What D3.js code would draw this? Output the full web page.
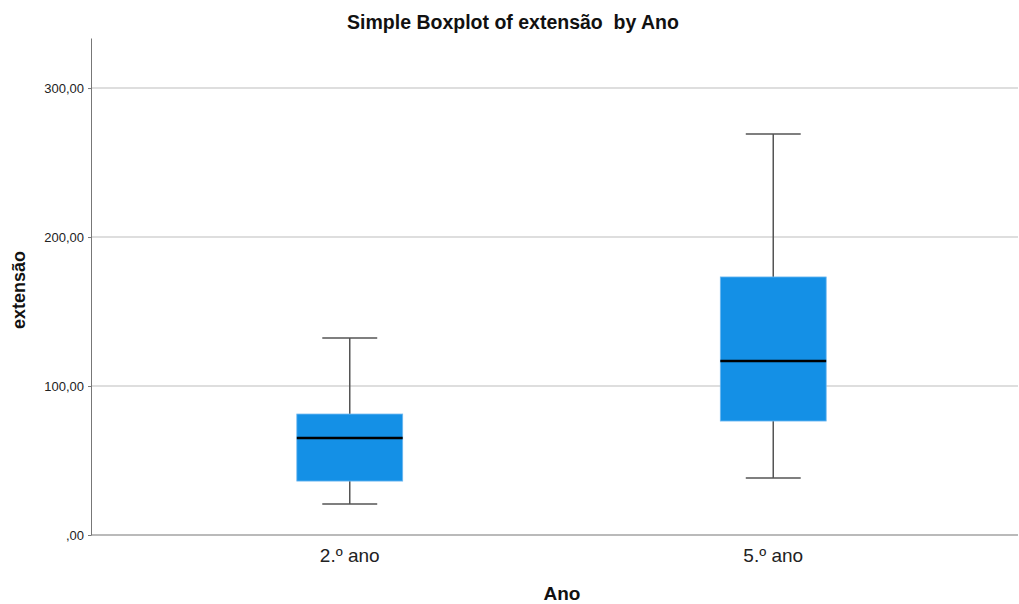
<!DOCTYPE html>
<html>
<head>
<meta charset="utf-8">
<script src="https://cdn.jsdelivr.net/npm/d3@7"></script>
<style>
  body { margin: 0; background: #fff; }
  text { font-family: "Liberation Sans", Arial, sans-serif; }
</style>
</head>
<body>
<svg id="chart" width="1019" height="604"></svg>
<script>
// data
var categories = ["2.º ano", "5.º ano"];
var whiskerLow = [20.8, 38.3];
var q1 = [36.2, 76.5];
var median = [65.1, 116.8];
var q3 = [81.2, 173.2];
var whiskerHigh = [132.2, 269.1];
var yTicks = [0, 100, 200, 300];

var svg = d3.select("#chart");
var plotLeft = 91, plotRight = 1018, plotTop = 38, plotBottom = 535;

var sc_y = d3.scaleLinear().domain([0, 333.6]).range([plotBottom, plotTop]);
var sc_x = d3.scaleBand().domain(categories).range([138, 985]).paddingInner(0).paddingOuter(0);
var fmt = function(v) { return v === 0 ? ",00" : d3.format(".2f")(v).replace(".", ","); };

// gridlines
svg.append("g").selectAll("line").data(yTicks.filter(function(d) { return d > 0; }))
  .enter().append("line")
  .attr("x1", plotLeft).attr("x2", plotRight)
  .attr("y1", function(d) { return sc_y(d); })
  .attr("y2", function(d) { return sc_y(d); })
  .attr("stroke", "#d3d3d3").attr("stroke-width", 1.5);

// y axis
var yAxis = svg.append("g")
  .attr("transform", "translate(" + plotLeft + ",0)")
  .call(d3.axisLeft(sc_y).tickValues(yTicks).tickFormat(fmt).tickSize(3).tickSizeOuter(0));
yAxis.select(".domain").attr("stroke", "#777");
yAxis.selectAll(".tick line").attr("stroke", "#777");
yAxis.selectAll(".tick text").attr("font-size", 13).attr("fill", "#222")
  .attr("font-family", "Liberation Sans, Arial, sans-serif").attr("dx", -1);

// x axis
var xAxis = svg.append("g")
  .attr("transform", "translate(0," + plotBottom + ")");
xAxis.append("line").attr("x1", plotLeft).attr("x2", plotRight)
  .attr("y1", 0).attr("y2", 0).attr("stroke", "#777").attr("stroke-width", 1.2);
xAxis.selectAll("text").data(categories).enter().append("text")
  .attr("x", function(d) { return sc_x(d) + sc_x.bandwidth() / 2; })
  .attr("y", 27)
  .attr("text-anchor", "middle")
  .attr("font-size", 19).attr("fill", "#222")
  .text(function(d) { return d; });

// boxes
var bw = sc_x.bandwidth() * 0.25;
var capW = sc_x.bandwidth() * 0.125;
var g = svg.append("g");
categories.forEach(function(c, i) {
  var cx = sc_x(c) + sc_x.bandwidth() / 2;
  g.append("line").attr("x1", cx).attr("x2", cx)
    .attr("y1", sc_y(whiskerHigh[i])).attr("y2", sc_y(q3[i]))
    .attr("stroke", "#555").attr("stroke-width", 1.5);
  g.append("line").attr("x1", cx).attr("x2", cx)
    .attr("y1", sc_y(q1[i])).attr("y2", sc_y(whiskerLow[i]))
    .attr("stroke", "#555").attr("stroke-width", 1.5);
  [whiskerHigh[i], whiskerLow[i]].forEach(function(v) {
    g.append("line").attr("x1", cx - capW / 2 - 1).attr("x2", cx + capW / 2 + 1)
      .attr("y1", sc_y(v)).attr("y2", sc_y(v))
      .attr("stroke", "#555").attr("stroke-width", 1.5);
  });
  g.append("rect")
    .attr("x", cx - bw / 2).attr("width", bw)
    .attr("y", sc_y(q3[i])).attr("height", sc_y(q1[i]) - sc_y(q3[i]))
    .attr("fill", "#1490e6").attr("stroke", "#6fb8f0").attr("stroke-width", 0.8);
  g.append("line").attr("x1", cx - bw / 2).attr("x2", cx + bw / 2)
    .attr("y1", sc_y(median[i])).attr("y2", sc_y(median[i]))
    .attr("stroke", "#000").attr("stroke-width", 2.5);
});

// title and axis titles
svg.append("text").attr("x", 513).attr("y", 29).attr("text-anchor", "middle")
  .attr("font-size", 19.5).attr("font-weight", "bold").attr("fill", "#111")
  .attr("xml:space", "preserve")
  .text("Simple Boxplot of extensão  by Ano");
svg.append("text").attr("x", 562).attr("y", 600).attr("text-anchor", "middle")
  .attr("font-size", 19).attr("font-weight", "bold").attr("fill", "#111")
  .text("Ano");
svg.append("text").attr("transform", "translate(25,290) rotate(-90)")
  .attr("text-anchor", "middle")
  .attr("font-size", 18).attr("font-weight", "bold").attr("fill", "#111")
  .text("extensão");
</script>
</body>
</html>
